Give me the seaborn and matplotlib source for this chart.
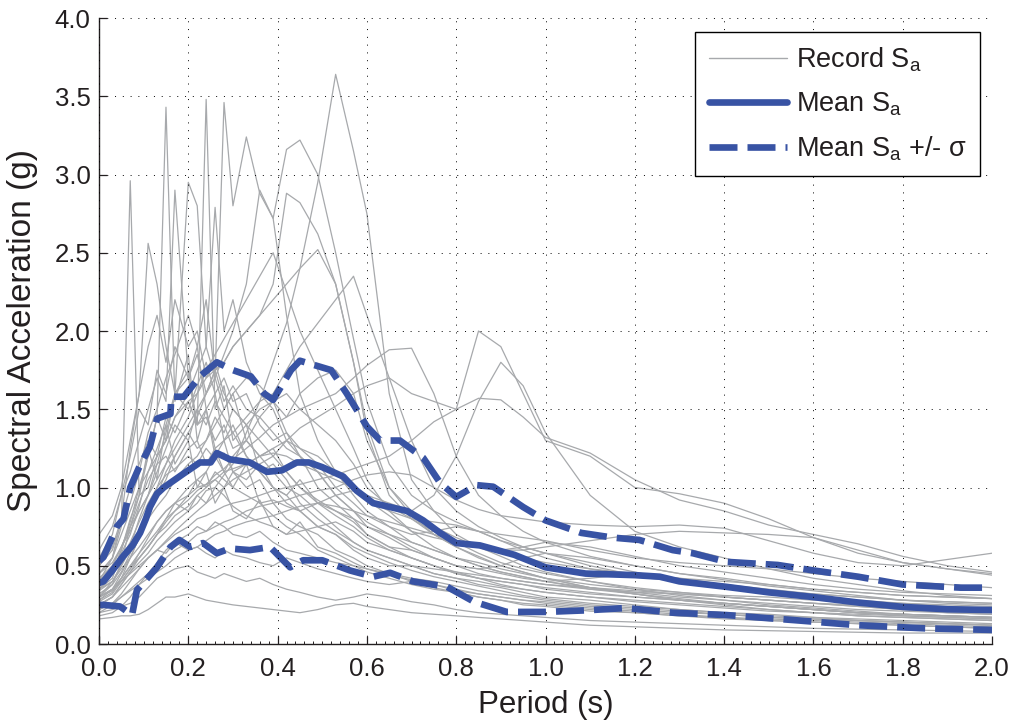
import numpy as np
import pandas as pd
import matplotlib
matplotlib.use("Agg")
import matplotlib.pyplot as plt
from matplotlib.lines import Line2D
from matplotlib.ticker import MultipleLocator
import seaborn as sns

# ---------------------------------------------------------------------------
# Spectral ordinates of the individual ground-motion records (g)
# Shared period grid for all records (s)
periods = [0.00, 0.03, 0.05, 0.07, 0.09, 0.11, 0.13, 0.15, 0.17, 0.20, 0.22, 0.24,
           0.26, 0.28, 0.30,
           0.33, 0.36, 0.39, 0.42, 0.45, 0.49, 0.53, 0.57, 0.60,
           0.65, 0.70, 0.75, 0.80, 0.85, 0.90, 0.95, 1.00, 1.10, 1.20, 1.30,
           1.40, 1.50, 1.60, 1.70, 1.80, 1.90, 2.00]

r01 = [0.45, 0.55, 0.75, 2.96, 0.95, 1.25, 1.05, 1.40, 1.15, 1.30, 1.00, 1.10, 0.90, 1.00, 0.85,
       0.80, 0.92, 0.75, 0.70, 0.78, 0.62, 0.58, 0.52, 0.48,
       0.44, 0.41, 0.38, 0.34, 0.32, 0.30, 0.28, 0.27, 0.24, 0.22, 0.20, 0.19, 0.17, 0.16, 0.15, 0.14, 0.13, 0.12]
r02 = [0.30, 0.38, 0.52, 0.75, 0.95, 1.20, 1.45, 3.43, 1.55, 1.85, 1.30, 1.50, 1.20, 1.10, 1.00,
       1.15, 0.90, 0.82, 0.75, 0.70, 0.60, 0.55, 0.50, 0.46,
       0.42, 0.38, 0.35, 0.33, 0.30, 0.28, 0.25, 0.24, 0.21, 0.20, 0.18, 0.16, 0.15, 0.14, 0.13, 0.12, 0.11, 0.10]
r03 = [0.35, 0.42, 0.58, 0.70, 0.88, 1.10, 1.25, 1.40, 1.60, 1.75, 1.40, 3.48, 1.50, 1.65, 1.30,
       1.40, 1.10, 1.00, 0.90, 0.85, 0.75, 0.70, 0.60, 0.55,
       0.50, 0.50, 0.45, 0.42, 0.38, 0.36, 0.33, 0.30, 0.28, 0.25, 0.22, 0.20, 0.18, 0.17, 0.15, 0.14, 0.13, 0.12]
r04 = [0.50, 0.60, 0.78, 0.90, 1.10, 1.35, 1.50, 1.70, 1.85, 2.10, 1.90, 2.20, 1.70, 3.46, 2.80,
       3.24, 2.88, 2.72, 3.16, 3.22, 3.00, 2.50, 1.95, 1.55,
       1.15, 0.95, 0.85, 0.78, 0.72, 0.66, 0.62, 0.58, 0.52, 0.46, 0.40, 0.36, 0.33, 0.30, 0.27, 0.25, 0.23, 0.22]
r05 = [0.25, 0.30, 0.38, 0.46, 0.52, 0.58, 0.66, 0.72, 0.78, 0.85, 0.90, 0.98, 1.00, 1.08, 1.15,
       1.35, 1.55, 1.80, 2.05, 2.40, 2.95, 3.64, 3.15, 2.75,
       1.60, 1.05, 0.85, 0.70, 0.62, 0.56, 0.50, 0.46, 0.40, 0.35, 0.31, 0.28, 0.25, 0.23, 0.21, 0.19, 0.18, 0.17]
r06 = [0.40, 0.50, 0.62, 0.75, 0.85, 0.95, 1.05, 1.15, 1.25, 1.40, 1.50, 1.60, 1.75, 1.80, 1.90,
       2.00, 2.10, 2.30, 2.88, 2.82, 2.62, 2.30, 1.80, 1.35,
       0.95, 0.80, 0.70, 0.62, 0.55, 0.50, 0.46, 0.42, 0.36, 0.32, 0.28, 0.25, 0.22, 0.20, 0.18, 0.17, 0.16, 0.15]
r07 = [0.40, 0.55, 0.80, 1.25, 1.60, 2.56, 2.30, 1.90, 1.60, 1.70, 1.40, 1.50, 1.25, 1.30, 1.10,
       1.00, 1.05, 0.90, 0.80, 0.75, 0.70, 0.60, 0.55, 0.50,
       0.45, 0.40, 0.38, 0.35, 0.32, 0.30, 0.28, 0.26, 0.23, 0.21, 0.19, 0.17, 0.16, 0.15, 0.14, 0.13, 0.12, 0.11]
r08 = [0.55, 0.70, 0.95, 1.10, 1.30, 1.50, 1.70, 1.55, 2.90, 1.70, 1.90, 1.50, 1.60, 1.30, 1.40,
       1.20, 1.10, 1.00, 0.95, 0.85, 0.75, 0.70, 0.62, 0.58,
       0.52, 0.47, 0.43, 0.40, 0.37, 0.34, 0.31, 0.29, 0.26, 0.24, 0.22, 0.20, 0.19, 0.17, 0.16, 0.15, 0.14, 0.13]
r09 = [0.30, 0.40, 0.50, 0.62, 0.80, 0.95, 1.15, 1.35, 1.60, 2.95, 2.80, 1.90, 1.70, 1.50, 1.60,
       1.30, 1.20, 1.10, 1.00, 0.95, 0.85, 0.75, 0.65, 0.60,
       0.55, 0.50, 0.45, 0.42, 0.40, 0.37, 0.35, 0.33, 0.30, 0.28, 0.26, 0.24, 0.22, 0.20, 0.19, 0.18, 0.17, 0.16]
r10 = [0.35, 0.45, 0.60, 0.80, 0.95, 1.00, 1.20, 1.30, 1.45, 1.60, 1.75, 1.90, 2.79, 2.00, 2.20,
       1.80, 1.60, 1.50, 1.30, 1.20, 1.00, 0.90, 0.80, 0.70,
       0.62, 0.55, 0.50, 0.45, 0.42, 0.40, 0.38, 0.35, 0.32, 0.30, 0.28, 0.26, 0.24, 0.22, 0.20, 0.19, 0.18, 0.17]
r11 = [0.28, 0.35, 0.45, 0.55, 0.68, 0.80, 0.95, 1.05, 1.20, 1.35, 1.45, 1.60, 1.70, 1.85, 2.00,
       2.30, 2.90, 2.72, 2.10, 1.60, 1.30, 1.10, 0.95, 0.85,
       0.75, 0.65, 0.60, 0.55, 0.50, 0.46, 0.43, 0.40, 0.36, 0.33, 0.30, 0.28, 0.26, 0.24, 0.22, 0.21, 0.20, 0.19]
r12 = [0.30, 0.35, 0.42, 0.50, 0.55, 0.62, 0.70, 0.78, 0.85, 0.95, 1.05, 1.10, 1.20, 1.30, 1.35,
       1.45, 1.55, 1.60, 1.75, 1.90, 2.05, 2.20, 2.35, 2.10,
       1.70, 1.30, 1.00, 0.85, 0.75, 0.68, 0.62, 0.58, 0.50, 0.44, 0.40, 0.36, 0.33, 0.30, 0.28, 0.26, 0.24, 0.23]
r13 = [0.45, 0.55, 0.70, 0.85, 1.00, 1.10, 1.20, 1.30, 1.45, 1.55, 1.60, 1.70, 1.75, 1.80, 1.90,
       2.00, 2.10, 2.20, 2.30, 2.40, 2.52, 2.30, 1.80, 1.40,
       1.00, 0.82, 0.70, 0.62, 0.56, 0.50, 0.46, 0.42, 0.36, 0.32, 0.28, 0.26, 0.24, 0.22, 0.20, 0.18, 0.17, 0.16]
r14 = [0.30, 0.35, 0.42, 0.50, 0.58, 0.65, 0.72, 0.80, 0.85, 0.92, 0.98, 1.02, 1.08, 1.12, 1.18,
       1.25, 1.32, 1.40, 1.45, 1.50, 1.55, 1.60, 1.70, 1.78,
       1.88, 1.89, 1.60, 1.20, 0.95, 0.82, 0.72, 0.65, 0.56, 0.50, 0.45, 0.41, 0.37, 0.34, 0.31, 0.28, 0.26, 0.25]
r15 = [0.25, 0.30, 0.36, 0.42, 0.48, 0.55, 0.60, 0.66, 0.72, 0.80, 0.85, 0.90, 0.95, 1.00, 1.05,
       1.10, 1.15, 1.20, 1.30, 1.38, 1.45, 1.52, 1.60, 1.65,
       1.70, 1.60, 1.55, 1.50, 2.00, 1.90, 1.60, 1.30, 1.20, 1.00, 0.96, 0.90, 0.80, 0.68, 0.58, 0.52, 0.48, 0.44]
r16 = [0.35, 0.40, 0.48, 0.55, 0.62, 0.70, 0.78, 0.85, 0.90, 0.95, 1.00, 1.02, 1.05, 1.10, 1.12,
       1.15, 1.20, 1.22, 1.20, 1.15, 1.10, 1.05, 1.00, 0.95,
       0.90, 0.85, 0.95, 1.20, 1.55, 1.80, 1.65, 1.35, 0.95, 0.72, 0.62, 0.55, 0.48, 0.42, 0.38, 0.34, 0.31, 0.29]
r17 = [0.30, 0.35, 0.40, 0.45, 0.50, 0.55, 0.60, 0.65, 0.70, 0.75, 0.80, 0.82, 0.85, 0.88, 0.90,
       0.92, 0.95, 0.98, 1.00, 1.02, 1.05, 1.08, 1.12, 1.15,
       1.20, 1.30, 1.42, 1.50, 1.57, 1.56, 1.45, 1.32, 1.22, 1.05, 0.92, 0.85, 0.76, 0.70, 0.64, 0.56, 0.50, 0.46]
r18 = [0.20, 0.25, 0.30, 0.35, 0.40, 0.45, 0.50, 0.55, 0.60, 0.65, 0.70, 0.72, 0.75, 0.78, 0.80,
       0.85, 0.88, 0.90, 0.92, 0.95, 0.98, 1.00, 1.05, 1.08,
       1.10, 1.08, 1.00, 0.92, 0.86, 0.82, 0.80, 0.78, 0.76, 0.75, 0.76, 0.74, 0.66, 0.58, 0.52, 0.50, 0.54, 0.58]
r19 = [0.22, 0.26, 0.30, 0.34, 0.38, 0.42, 0.46, 0.50, 0.55, 0.60, 0.62, 0.66, 0.70, 0.72, 0.75,
       0.78, 0.80, 0.82, 0.85, 0.88, 0.90, 0.88, 0.85, 0.82,
       0.78, 0.74, 0.70, 0.66, 0.62, 0.60, 0.60, 0.62, 0.66, 0.70, 0.72, 0.71, 0.70, 0.68, 0.60, 0.52, 0.48, 0.45]
r20 = [0.16, 0.17, 0.18, 0.18, 0.19, 0.22, 0.26, 0.30, 0.30, 0.32, 0.30, 0.28, 0.27, 0.26, 0.25,
       0.24, 0.23, 0.22, 0.21, 0.20, 0.22, 0.25, 0.26, 0.24,
       0.22, 0.20, 0.19, 0.18, 0.17, 0.16, 0.15, 0.14, 0.12, 0.11, 0.10, 0.09, 0.085, 0.08, 0.075, 0.07, 0.07, 0.07]
r21 = [0.20, 0.22, 0.24, 0.26, 0.30, 0.36, 0.42, 0.45, 0.48, 0.50, 0.46, 0.44, 0.42, 0.45, 0.43,
       0.40, 0.42, 0.38, 0.35, 0.33, 0.30, 0.28, 0.30, 0.32,
       0.30, 0.27, 0.25, 0.22, 0.20, 0.19, 0.18, 0.17, 0.15, 0.14, 0.13, 0.12, 0.11, 0.10, 0.095, 0.09, 0.085, 0.08]
r22 = [0.22, 0.26, 0.32, 0.40, 0.48, 0.55, 0.60, 0.58, 0.65, 0.60, 0.62, 0.58, 0.55, 0.60, 0.57,
       0.55, 0.52, 0.50, 0.55, 0.52, 0.48, 0.45, 0.42, 0.40,
       0.38, 0.40, 0.36, 0.33, 0.30, 0.28, 0.26, 0.25, 0.22, 0.20, 0.18, 0.17, 0.15, 0.14, 0.13, 0.12, 0.11, 0.10]
r23 = [0.38, 0.45, 0.55, 0.65, 0.78, 0.90, 1.00, 1.08, 1.12, 1.20, 1.15, 1.25, 1.18, 1.22, 1.10,
       1.05, 1.15, 1.00, 0.95, 1.05, 0.90, 0.85, 0.78, 0.70,
       0.62, 0.60, 0.55, 0.50, 0.45, 0.42, 0.40, 0.38, 0.35, 0.33, 0.32, 0.30, 0.28, 0.26, 0.25, 0.24, 0.23, 0.22]
r24 = [0.50, 0.62, 0.80, 1.00, 1.15, 1.30, 1.20, 1.45, 1.35, 1.55, 1.40, 1.45, 1.30, 1.40, 1.25,
       1.30, 1.20, 1.25, 1.10, 1.00, 0.92, 0.85, 0.80, 0.75,
       0.70, 0.62, 0.55, 0.50, 0.48, 0.45, 0.42, 0.40, 0.42, 0.45, 0.42, 0.38, 0.35, 0.32, 0.30, 0.28, 0.27, 0.26]
r25 = [0.28, 0.33, 0.42, 0.55, 0.68, 0.82, 0.95, 1.10, 1.20, 1.35, 1.25, 1.30, 1.45, 1.35, 1.50,
       1.40, 1.50, 1.55, 1.35, 1.20, 1.10, 0.95, 0.85, 0.75,
       0.68, 0.60, 0.55, 0.50, 0.48, 0.50, 0.55, 0.58, 0.55, 0.50, 0.45, 0.42, 0.38, 0.35, 0.33, 0.31, 0.30, 0.29]
r26 = [0.60, 0.75, 0.95, 1.20, 1.50, 1.40, 1.75, 1.60, 1.90, 1.70, 1.85, 1.60, 1.75, 1.55, 1.65,
       1.50, 1.45, 1.35, 1.25, 1.20, 1.10, 0.95, 0.85, 0.78,
       0.70, 0.65, 0.60, 0.55, 0.52, 0.48, 0.45, 0.42, 0.38, 0.35, 0.33, 0.31, 0.30, 0.28, 0.27, 0.26, 0.25, 0.24]
r27 = [0.42, 0.50, 0.62, 0.75, 0.90, 1.05, 1.15, 1.20, 1.10, 1.25, 1.30, 1.15, 1.25, 1.10, 1.20,
       1.30, 1.45, 1.55, 1.60, 1.50, 1.40, 1.30, 1.15, 1.00,
       0.88, 0.80, 0.72, 0.65, 0.58, 0.52, 0.48, 0.45, 0.40, 0.36, 0.33, 0.30, 0.28, 0.26, 0.24, 0.22, 0.21, 0.20]
r28 = [0.32, 0.38, 0.46, 0.58, 0.70, 0.80, 0.88, 0.95, 1.05, 1.15, 1.20, 1.30, 1.40, 1.50, 1.60,
       1.70, 1.65, 1.55, 1.45, 1.60, 1.70, 1.75, 1.60, 1.30,
       1.00, 0.85, 0.75, 0.68, 0.62, 0.58, 0.55, 0.52, 0.48, 0.45, 0.42, 0.40, 0.38, 0.35, 0.33, 0.31, 0.30, 0.29]
r29 = [0.45, 0.52, 0.62, 0.72, 0.85, 0.95, 1.10, 1.25, 1.40, 1.30, 1.50, 1.40, 1.55, 1.45, 1.35,
       1.20, 1.10, 1.15, 1.05, 0.90, 0.80, 0.72, 0.65, 0.60,
       0.55, 0.50, 0.48, 0.46, 0.44, 0.42, 0.40, 0.38, 0.36, 0.34, 0.32, 0.30, 0.28, 0.26, 0.24, 0.22, 0.20, 0.19]
r30 = [0.25, 0.30, 0.38, 0.46, 0.55, 0.62, 0.70, 0.80, 0.90, 0.85, 0.95, 0.90, 1.00, 0.95, 0.88,
       0.82, 0.78, 0.75, 0.70, 0.72, 0.75, 0.78, 0.72, 0.65,
       0.60, 0.55, 0.50, 0.46, 0.42, 0.40, 0.38, 0.36, 0.33, 0.30, 0.28, 0.26, 0.24, 0.22, 0.20, 0.19, 0.18, 0.17]
r31 = [0.70, 0.82, 1.00, 1.30, 1.60, 1.90, 2.10, 1.80, 2.20, 1.90, 2.00, 1.70, 1.80, 1.60, 1.50,
       1.40, 1.30, 1.20, 1.10, 1.00, 0.90, 0.82, 0.75, 0.68,
       0.60, 0.55, 0.50, 0.45, 0.42, 0.38, 0.35, 0.33, 0.30, 0.27, 0.25, 0.23, 0.21, 0.20, 0.18, 0.17, 0.16, 0.15]
r32 = [0.34, 0.40, 0.50, 0.60, 0.72, 0.85, 1.00, 1.15, 1.30, 1.45, 1.60, 1.75, 1.85, 1.95, 2.05,
       2.20, 2.35, 2.50, 2.25, 2.00, 1.75, 1.50, 1.25, 1.05,
       0.85, 0.72, 0.62, 0.55, 0.50, 0.46, 0.43, 0.40, 0.35, 0.32, 0.29, 0.26, 0.24, 0.22, 0.20, 0.19, 0.18, 0.17]
r33 = [0.27, 0.32, 0.40, 0.48, 0.58, 0.68, 0.78, 0.85, 0.90, 1.00, 1.05, 1.00, 1.10, 1.05, 1.00,
       0.95, 0.90, 0.92, 0.88, 0.85, 0.90, 0.95, 0.98, 0.92,
       0.82, 0.72, 0.68, 0.65, 0.62, 0.60, 0.62, 0.65, 0.62, 0.56, 0.50, 0.46, 0.42, 0.38, 0.35, 0.33, 0.32, 0.31]
r34 = [0.38, 0.46, 0.60, 0.78, 1.00, 1.20, 1.45, 1.30, 1.60, 1.50, 1.65, 1.80, 1.60, 1.70, 1.55,
       1.60, 1.40, 1.30, 1.35, 1.25, 1.15, 1.00, 0.90, 0.82,
       0.75, 0.70, 0.72, 0.75, 0.72, 0.66, 0.60, 0.55, 0.48, 0.43, 0.40, 0.37, 0.34, 0.32, 0.30, 0.28, 0.27, 0.26]
r35 = [0.18, 0.20, 0.24, 0.30, 0.38, 0.45, 0.52, 0.60, 0.65, 0.70, 0.75, 0.72, 0.78, 0.75, 0.70,
       0.68, 0.72, 0.65, 0.60, 0.58, 0.55, 0.52, 0.50, 0.48,
       0.45, 0.42, 0.40, 0.37, 0.34, 0.32, 0.30, 0.28, 0.25, 0.23, 0.21, 0.19, 0.17, 0.16, 0.15, 0.14, 0.13, 0.12]
r36 = [0.30, 0.34, 0.40, 0.48, 0.55, 0.62, 0.70, 0.75, 0.82, 0.88, 0.95, 1.00, 1.05, 1.00, 1.10,
       1.15, 1.20, 1.25, 1.30, 1.25, 1.20, 1.10, 1.00, 0.92,
       0.85, 0.80, 0.78, 0.76, 0.72, 0.70, 0.68, 0.66, 0.60, 0.55, 0.52, 0.50, 0.48, 0.45, 0.42, 0.40, 0.38, 0.36]

records = [r01, r02, r03, r04, r05, r06, r07, r08, r09, r10, r11, r12,
           r13, r14, r15, r16, r17, r18, r19, r20, r21, r22, r23, r24,
           r25, r26, r27, r28, r29, r30, r31, r32, r33, r34, r35, r36]

# Mean spectrum
mean_T = [0.000, 0.010, 0.030, 0.054, 0.075, 0.092, 0.105, 0.114, 0.130, 0.145, 0.160,
          0.190, 0.226, 0.250, 0.264, 0.293, 0.338, 0.376, 0.410, 0.443, 0.470, 0.500,
          0.547, 0.577, 0.614, 0.652, 0.690, 0.726, 0.764, 0.800, 0.853, 0.930, 1.000,
          1.090, 1.200, 1.256, 1.300, 1.406, 1.500, 1.600, 1.700, 1.800, 1.900, 2.000]
mean_sa = [0.39, 0.40, 0.47, 0.56, 0.63, 0.71, 0.80, 0.875, 0.96, 1.00, 1.03,
           1.09, 1.16, 1.16, 1.22, 1.18, 1.16, 1.10, 1.11, 1.16, 1.16, 1.13,
           1.07, 0.98, 0.90, 0.875, 0.85, 0.79, 0.71, 0.645, 0.63, 0.57, 0.49,
           0.45, 0.44, 0.43, 0.40, 0.365, 0.33, 0.30, 0.265, 0.237, 0.222, 0.217]

# Mean + one standard deviation
upper_T = [0.000, 0.010, 0.040, 0.055, 0.070, 0.090, 0.114, 0.130, 0.160, 0.162, 0.190,
           0.226, 0.264, 0.300, 0.340, 0.370, 0.390, 0.430, 0.450, 0.520, 0.555, 0.600,
           0.630, 0.674, 0.726, 0.764, 0.800, 0.846, 0.883, 0.950, 1.000, 1.080, 1.150,
           1.210, 1.285, 1.330, 1.405, 1.520, 1.600, 1.700, 1.800, 1.930, 2.000]
upper_sa = [0.53, 0.555, 0.75, 0.80, 1.00, 1.13, 1.26, 1.44, 1.47, 1.58, 1.58,
            1.71, 1.80, 1.75, 1.71, 1.60, 1.56, 1.75, 1.81, 1.75, 1.60, 1.39,
            1.30, 1.30, 1.19, 1.03, 0.94, 1.015, 1.005, 0.875, 0.79, 0.71, 0.68,
            0.665, 0.60, 0.58, 0.525, 0.505, 0.47, 0.43, 0.38, 0.36, 0.36]

# Mean - one standard deviation
lower_T = [0.000, 0.010, 0.047, 0.074, 0.085, 0.130, 0.160, 0.180, 0.204, 0.233, 0.264,
           0.293, 0.338, 0.383, 0.428, 0.457, 0.500, 0.562, 0.614, 0.652, 0.703, 0.780,
           0.840, 0.913, 1.000, 1.090, 1.180, 1.285, 1.405, 1.555, 1.700, 1.850, 2.000]
lower_sa = [0.25, 0.25, 0.24, 0.185, 0.345, 0.49, 0.62, 0.665, 0.62, 0.645, 0.58,
            0.61, 0.60, 0.62, 0.49, 0.535, 0.535, 0.47, 0.43, 0.455, 0.40, 0.365,
            0.27, 0.205, 0.205, 0.215, 0.23, 0.20, 0.185, 0.153, 0.12, 0.10, 0.09]

x_ticks = [0.0, 0.2, 0.4, 0.6, 0.8, 1.0, 1.2, 1.4, 1.6, 1.8, 2.0]
y_ticks = [0.0, 0.5, 1.0, 1.5, 2.0, 2.5, 3.0, 3.5, 4.0]

# ---------------------------------------------------------------------------
sns.set_style("white")
plt.rcParams["font.family"] = ["Liberation Sans", "DejaVu Sans"]
plt.rcParams["mathtext.fontset"] = "custom"
plt.rcParams["mathtext.rm"] = "Liberation Sans"
plt.rcParams["mathtext.it"] = "Liberation Sans:italic"

TEXT = "#231f20"
GREY = "#a7a9ac"
BLUE = "#3853a4"

rec_df = pd.DataFrame({
    "period": np.tile(periods, len(records)),
    "sa": np.concatenate(records),
    "record": np.repeat(np.arange(len(records)), len(periods)),
})

fig = plt.figure(figsize=(10.16, 7.23), dpi=100)
ax = fig.add_axes([99 / 1016, 1 - 644 / 723, (992 - 99) / 1016, (644 - 18) / 723])

sns.lineplot(data=rec_df, x="period", y="sa", units="record", estimator=None,
             color=GREY, linewidth=0.9, ax=ax, legend=False)

band_style = dict(color=BLUE, linewidth=4.8, linestyle=(0, (4.2, 1.5)),
                  dash_capstyle="butt", ax=ax, legend=False)
sns.lineplot(x=upper_T, y=upper_sa, **band_style)
sns.lineplot(x=lower_T, y=lower_sa, **band_style)
sns.lineplot(x=mean_T, y=mean_sa, color=BLUE, linewidth=4.8, ax=ax, legend=False)

ax.set_xlim(0, 2.0)
ax.set_ylim(0, 4.0)
ax.set_xticks(x_ticks)
ax.set_yticks(y_ticks)
ax.set_xticklabels([f"{v:.1f}" for v in x_ticks])
ax.set_yticklabels([f"{v:.1f}" for v in y_ticks])
ax.xaxis.set_minor_locator(MultipleLocator(0.02))

ax.grid(True, which="major", color="black", linestyle=(0, (1, 7)), linewidth=0.7)
ax.set_axisbelow(False)

for side in ("top", "right"):
    ax.spines[side].set_visible(False)
for side in ("left", "bottom"):
    ax.spines[side].set_color(TEXT)
    ax.spines[side].set_linewidth(1.0)

ax.tick_params(axis="both", which="both", bottom=True, left=True, top=False, right=False)
ax.tick_params(axis="both", which="major", direction="in", length=6, width=0.9,
               colors=TEXT, labelsize=18.5, pad=6)
ax.tick_params(axis="x", which="minor", direction="in", length=2.5, width=0.7, colors=TEXT)
ax.tick_params(axis="x", which="major", pad=9)

ax.set_xlabel("Period (s)", fontsize=22.5, color=TEXT, labelpad=7)
ax.set_ylabel("Spectral Acceleration (g)", fontsize=24, color=TEXT, labelpad=12)

handles = [
    Line2D([], [], color=GREY, linewidth=1.0),
    Line2D([], [], color=BLUE, linewidth=4.8),
    Line2D([], [], color=BLUE, linewidth=4.8, linestyle=(0, (4.2, 1.5))),
]
labels = [r"Record S$_\mathregular{a}$", r"Mean S$_\mathregular{a}$",
          r"Mean S$_\mathregular{a}$ +/- σ"]
leg = ax.legend(handles, labels, loc="upper right",
                bbox_to_anchor=(980 / 1016, 1 - 32 / 723), bbox_transform=fig.transFigure,
                borderaxespad=0, fontsize=19.5, handlelength=2.9, handletextpad=0.3,
                labelspacing=0.6, borderpad=0.5, fancybox=False, framealpha=1,
                edgecolor="black")
leg.get_frame().set_linewidth(1.0)
for t in leg.get_texts():
    t.set_color(TEXT)

fig.savefig("out.png", dpi=100)
